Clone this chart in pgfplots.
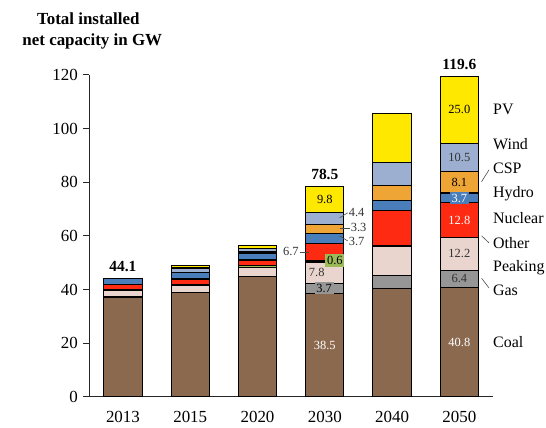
\documentclass[border=0pt]{standalone}
\usepackage{fontspec}
\setmainfont{Liberation Serif}
\usepackage{pgfplots}
\pgfplotsset{compat=1.18}
\definecolor{coal}{HTML}{8B694E}
\definecolor{gas}{HTML}{969696}
\definecolor{peaking}{HTML}{EAD5CE}
\definecolor{other}{HTML}{9BBB59}
\definecolor{nuclear}{HTML}{FF2A12}
\definecolor{hydro}{HTML}{4A7EBB}
\definecolor{csp}{HTML}{EFA535}
\definecolor{wind}{HTML}{9DAFD0}
\definecolor{pv}{HTML}{FFE800}
\newcommand{\lbl}{\fontsize{12.5}{14}\selectfont}
\newcommand{\cat}{\fontsize{16}{18}\selectfont}
\begin{document}
\begin{tikzpicture}
\useasboundingbox (-89.3bp,-31.3bp) rectangle (456.7bp,396.7bp);
\begin{axis}[
  scale only axis, width=403.7bp, height=321.7bp,
  xmin=-0.5, xmax=5.5, ymin=0, ymax=120,
  ybar stacked, bar width=38.3bp,
  axis lines=left,
  axis line style={-, line width=1bp, black!85},
  xtick={0,1,2,3,4,5},
  xticklabels={2013,2015,2020,2030,2040,2050},
  ytick={0,20,40,60,80,100,120},
  tick align=outside, major tick length=6bp,
  xtick style={draw=none},
  ytick style={line width=1bp, black!85},
  tick label style={font=\fontsize{17}{20}\selectfont},
  xticklabel style={yshift=-5bp},
  yticklabel style={xshift=-2bp},
  /pgf/number format/assume math mode=true,
  clip=false,
  every axis plot/.append style={draw=black, line width=1.1bp},
]
\addplot[fill=coal] coordinates {(0,37.2) (1,39.0) (2,45.0) (3,38.5) (4,40.2) (5,40.8)};
\addplot[fill=gas] coordinates {(0,0) (1,0) (2,0) (3,3.7) (4,4.9) (5,6.4)};
\addplot[fill=peaking] coordinates {(0,2.4) (1,2.5) (2,3.3) (3,7.8) (4,10.8) (5,12.2)};
\addplot[fill=other] coordinates {(0,0.5) (1,0.5) (2,0.8) (3,0.6) (4,0.5) (5,0.1)};
\addplot[fill=nuclear] coordinates {(0,1.9) (1,1.9) (2,1.9) (3,6.7) (4,13.0) (5,12.8)};
\addplot[fill=hydro] coordinates {(0,2.1) (1,2.3) (2,2.6) (3,3.7) (4,3.7) (5,3.7)};
\addplot[fill=csp] coordinates {(0,0) (1,0.2) (2,0.6) (3,3.3) (4,5.7) (5,8.1)};
\addplot[fill=wind] coordinates {(0,0) (1,1.6) (2,1.2) (3,4.4) (4,8.6) (5,10.5)};
\addplot[fill=pv] coordinates {(0,0) (1,1.0) (2,1.0) (3,9.8) (4,18.4) (5,25.0)};
\end{axis}
% annotations in the axis' own units (x: 67.283bp per category, y: 2.6808bp per GW)
\begin{scope}[x=67.2833bp, y=2.68083bp, xshift=33.642bp]
% totals
\node[font=\bfseries\fontsize{15.5}{17}\selectfont, anchor=base] at (0,46.7) {44.1};
\node[font=\bfseries\fontsize{15.5}{17}\selectfont, anchor=base] at (3,81.1) {78.5};
\node[font=\bfseries\fontsize{15.5}{17}\selectfont, anchor=base] at (5,122.2) {119.6};

% 2030 labels
\node[font=\lbl, text=white] at (3,19.3) {38.5};
\node[font=\lbl, fill=gas, inner sep=1.8bp] at (2.99,40.5) {3.7};
\node[font=\lbl, text=black!80] at (2.88,46.4) {7.8};
\node[font=\lbl, fill=other, inner sep=1.8bp] at (3.15,50.8) {0.6};
\node[font=\lbl, text=black] at (3,73.6) {9.8};
\draw[black!70, line width=0.6bp] (2.63,54.0) -- (2.77,54.0);
\node[font=\lbl, anchor=east, text=black!80, inner sep=1bp] at (2.63,54.0) {6.7};
\draw[black!70, line width=0.6bp] (3.22,66.7) -- (3.34,68.6);
\node[font=\lbl, anchor=west, text=black!80, inner sep=1bp] at (3.34,68.6) {4.4};
\draw[black!70, line width=0.6bp] (3.22,63.0) -- (3.37,63.0);
\node[font=\lbl, anchor=west, text=black!80, inner sep=1bp] at (3.37,63.0) {3.3};
\draw[black!70, line width=0.6bp] (3.22,60.0) -- (3.34,58.1);
\node[font=\lbl, anchor=west, text=black!80, inner sep=1bp] at (3.34,57.8) {3.7};

% 2050 labels
\node[font=\lbl, text=white] at (5,20.4) {40.8};
\node[font=\lbl, text=black!80] at (5,44.0) {6.4};
\node[font=\lbl, text=black!80] at (5,53.3) {12.2};
\node[font=\lbl, text=white] at (5,65.8) {12.8};
\node[font=\lbl, text=white, fill=hydro, inner sep=1.8bp] at (5,74.05) {3.7};
\node[font=\lbl, text=black] at (5,79.95) {8.1};
\node[font=\lbl, text=black!80] at (5,89.25) {10.5};
\node[font=\lbl, text=black] at (5,107.0) {25.0};

% category labels
\node[font=\cat, anchor=west] at (5.45,107.0) {PV};
\node[font=\cat, anchor=west] at (5.45,94.3) {Wind};
\node[font=\cat, anchor=west] at (5.45,85.2) {CSP};
\node[font=\cat, anchor=west] at (5.45,75.7) {Hydro};
\node[font=\cat, anchor=west] at (5.45,66.6) {Nuclear};
\node[font=\cat, anchor=west] at (5.45,57.5) {Other};
\node[font=\cat, anchor=west] at (5.45,48.3) {Peaking};
\node[font=\cat, anchor=west] at (5.45,39.6) {Gas};
\node[font=\cat, anchor=west] at (5.45,20.2) {Coal};
\draw[black!70, line width=0.6bp] (5.33,80.2) -- (5.44,84.6);
\draw[black!70, line width=0.6bp] (5.33,60.0) -- (5.44,57.4);
\draw[black!70, line width=0.6bp] (5.33,44.2) -- (5.44,40.6);
\end{scope}
\node[font=\bfseries\fontsize{17}{20}\selectfont, anchor=base] at (-1bp,372.2bp) {Total installed};
\node[font=\bfseries\fontsize{17}{20}\selectfont, anchor=base] at (3bp,351.2bp) {net capacity in GW};
\end{tikzpicture}
\end{document}
